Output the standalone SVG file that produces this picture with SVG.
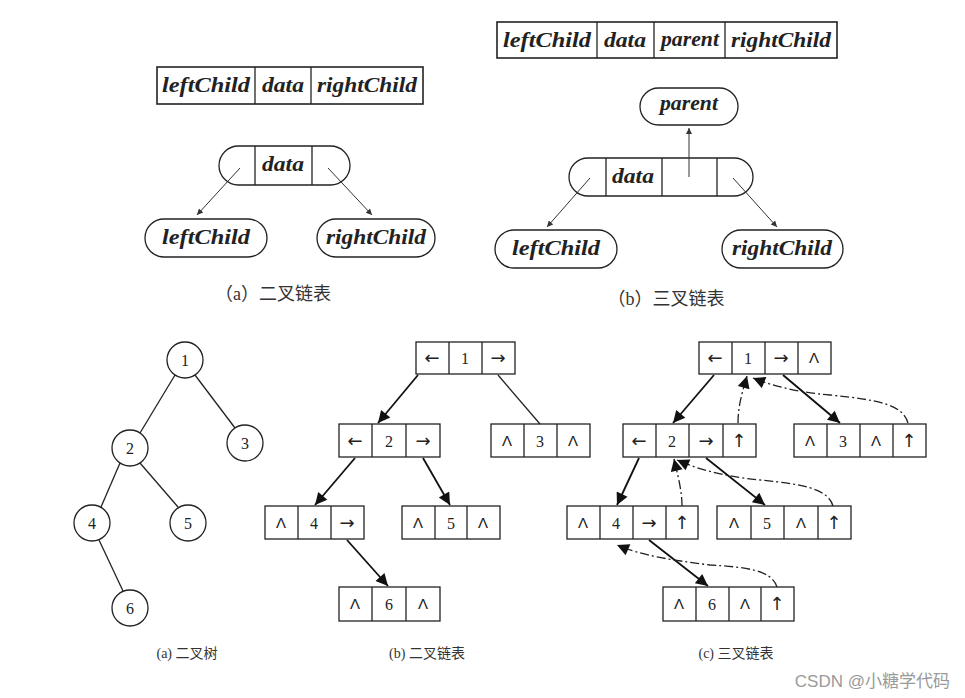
<svg xmlns="http://www.w3.org/2000/svg" width="965" height="698" viewBox="0 0 965 698">
<style>
.bx{fill:#fff;stroke:#222;stroke-width:1.3}
.bx2{fill:#fff;stroke:#222;stroke-width:1.6}
.ln{stroke:#222;stroke-width:1.3;fill:none}
.it{font-family:"Liberation Serif",serif;font-style:italic;font-weight:bold;font-size:20px;fill:#222;text-anchor:middle}
.cap{font-family:"Liberation Serif","Noto Sans CJK SC",sans-serif;font-size:18px;fill:#333;text-anchor:middle}
.cap2{font-family:"Liberation Serif","Noto Sans CJK SC",sans-serif;font-size:14px;fill:#333;text-anchor:middle}
.num{font-family:"Liberation Serif",serif;font-size:16px;fill:#222;text-anchor:middle}
.sym{font-family:"DejaVu Sans",sans-serif;font-size:18px;fill:#222;text-anchor:middle}
.lam{font-family:"Liberation Sans",sans-serif;font-size:15px;fill:#222;text-anchor:middle}
.thin{stroke:#333;stroke-width:1;fill:none}
.solid{stroke:#111;stroke-width:1.8;fill:none}
.dd{stroke:#222;stroke-width:1.3;fill:none;stroke-dasharray:9 3 2 3}
</style>
<defs>
<marker id="sm" viewBox="0 0 10 10" refX="10" refY="5" markerWidth="8" markerHeight="6" markerUnits="userSpaceOnUse" orient="auto"><path d="M0,0 L10,5 L0,10 z" fill="#333"/></marker>
<marker id="big" viewBox="0 0 10 10" refX="10" refY="5" markerWidth="15" markerHeight="12" markerUnits="userSpaceOnUse" orient="auto"><path d="M0,0 L10,5 L0,10 z" fill="#111"/></marker>
</defs>
<rect width="965" height="698" fill="#fff"/>

<!-- (a) binary linked list structure -->
<g id="a-record">
<rect class="bx2" x="157" y="67" width="266" height="37"/>
<line class="ln" x1="255" y1="67" x2="255" y2="104"/>
<line class="ln" x1="311" y1="67" x2="311" y2="104"/>
<text class="it" x="206" y="92" textLength="88" lengthAdjust="spacingAndGlyphs">leftChild</text>
<text class="it" x="283" y="92" textLength="42" lengthAdjust="spacingAndGlyphs">data</text>
<text class="it" x="367" y="92" textLength="100" lengthAdjust="spacingAndGlyphs">rightChild</text>
</g>
<g id="a-node">
<rect class="bx" x="219" y="146" width="131" height="39" rx="19.5"/>
<line class="ln" x1="255" y1="146" x2="255" y2="185"/>
<line class="ln" x1="312" y1="146" x2="312" y2="185"/>
<text class="it" x="283" y="171" textLength="42" lengthAdjust="spacingAndGlyphs">data</text>
</g>
<g id="a-left">
<rect class="bx" x="145" y="219" width="122" height="38" rx="19"/>
<text class="it" x="206" y="244" textLength="88" lengthAdjust="spacingAndGlyphs">leftChild</text>
</g>
<g id="a-right">
<rect class="bx" x="317" y="219" width="118" height="38" rx="19"/>
<text class="it" x="376" y="244" textLength="100" lengthAdjust="spacingAndGlyphs">rightChild</text>
</g>
<text class="cap" x="273" y="300">（a）二叉链表</text>

<!-- (b) triple linked list structure -->
<g id="b-record">
<rect class="bx2" x="497" y="22" width="340" height="36"/>
<line class="ln" x1="597" y1="22" x2="597" y2="58"/>
<line class="ln" x1="654" y1="22" x2="654" y2="58"/>
<line class="ln" x1="725" y1="22" x2="725" y2="58"/>
<text class="it" x="547" y="47" textLength="88" lengthAdjust="spacingAndGlyphs">leftChild</text>
<text class="it" x="625" y="47" textLength="42" lengthAdjust="spacingAndGlyphs">data</text>
<text class="it" x="690" y="46" textLength="58" lengthAdjust="spacingAndGlyphs">parent</text>
<text class="it" x="781" y="47" textLength="100" lengthAdjust="spacingAndGlyphs">rightChild</text>
</g>
<g id="b-parent">
<rect class="bx" x="640" y="88" width="98" height="37" rx="18.5"/>
<text class="it" x="689" y="110" textLength="58" lengthAdjust="spacingAndGlyphs">parent</text>
</g>
<g id="b-node">
<rect class="bx" x="569" y="158" width="184" height="38" rx="19"/>
<line class="ln" x1="606" y1="158" x2="606" y2="196"/>
<line class="ln" x1="662" y1="158" x2="662" y2="196"/>
<line class="ln" x1="717" y1="158" x2="717" y2="196"/>
<text class="it" x="633" y="183" textLength="42" lengthAdjust="spacingAndGlyphs">data</text>
</g>
<g id="b-left">
<rect class="bx" x="495" y="230" width="122" height="38" rx="19"/>
<text class="it" x="556" y="255" textLength="88" lengthAdjust="spacingAndGlyphs">leftChild</text>
</g>
<g id="b-right">
<rect class="bx" x="722" y="230" width="121" height="38" rx="19"/>
<text class="it" x="782" y="255" textLength="100" lengthAdjust="spacingAndGlyphs">rightChild</text>
</g>
<text class="cap" x="666" y="305">（b）三叉链表</text>

<!-- tree nodes -->
<g id="t1"><circle class="bx" cx="185" cy="360" r="18"/><text class="num" x="185" y="366">1</text></g>
<g id="t2"><circle class="bx" cx="130" cy="448" r="18"/><text class="num" x="130" y="454">2</text></g>
<g id="t3"><circle class="bx" cx="245" cy="443" r="18"/><text class="num" x="245" y="449">3</text></g>
<g id="t4"><circle class="bx" cx="92" cy="523" r="18"/><text class="num" x="92" y="529">4</text></g>
<g id="t5"><circle class="bx" cx="188" cy="523" r="18"/><text class="num" x="188" y="529">5</text></g>
<g id="t6"><circle class="bx" cx="130" cy="608" r="18"/><text class="num" x="130" y="614">6</text></g>
<text class="cap2" x="187" y="658">(a) 二叉树</text>

<!-- (b) binary linked list -->
<g id="b1"><rect class="bx" x="416" y="342" width="99" height="32"/><line class="ln" x1="449" y1="342" x2="449" y2="374"/><line class="ln" x1="482" y1="342" x2="482" y2="374"/>
<text class="sym" x="432" y="364">←</text><text class="num" x="465" y="364">1</text><text class="sym" x="498" y="364">→</text></g>
<g id="b2"><rect class="bx" x="339" y="424" width="101" height="33"/><line class="ln" x1="372" y1="424" x2="372" y2="457"/><line class="ln" x1="406" y1="424" x2="406" y2="457"/>
<text class="sym" x="355" y="447">←</text><text class="num" x="389" y="447">2</text><text class="sym" x="423" y="447">→</text></g>
<g id="b3"><rect class="bx" x="491" y="424" width="99" height="33"/><line class="ln" x1="524" y1="424" x2="524" y2="457"/><line class="ln" x1="557" y1="424" x2="557" y2="457"/>
<text class="lam" x="507" y="446">Λ</text><text class="num" x="540" y="447">3</text><text class="lam" x="573" y="446">Λ</text></g>
<g id="b4"><rect class="bx" x="265" y="506" width="99" height="33"/><line class="ln" x1="298" y1="506" x2="298" y2="539"/><line class="ln" x1="331" y1="506" x2="331" y2="539"/>
<text class="lam" x="281" y="528">Λ</text><text class="num" x="314" y="529">4</text><text class="sym" x="347" y="529">→</text></g>
<g id="b5"><rect class="bx" x="402" y="506" width="98" height="33"/><line class="ln" x1="435" y1="506" x2="435" y2="539"/><line class="ln" x1="467" y1="506" x2="467" y2="539"/>
<text class="lam" x="418" y="528">Λ</text><text class="num" x="451" y="529">5</text><text class="lam" x="483" y="528">Λ</text></g>
<g id="b6"><rect class="bx" x="339" y="587" width="101" height="34"/><line class="ln" x1="372" y1="587" x2="372" y2="621"/><line class="ln" x1="406" y1="587" x2="406" y2="621"/>
<text class="lam" x="355" y="609">Λ</text><text class="num" x="389" y="610">6</text><text class="lam" x="423" y="609">Λ</text></g>
<text class="cap2" x="427" y="658">(b) 二叉链表</text>

<!-- (c) triple linked list -->
<g id="c1"><rect class="bx" x="699" y="342" width="132" height="32"/><line class="ln" x1="732" y1="342" x2="732" y2="374"/><line class="ln" x1="765" y1="342" x2="765" y2="374"/><line class="ln" x1="798" y1="342" x2="798" y2="374"/>
<text class="sym" x="715" y="364">←</text><text class="num" x="748" y="364">1</text><text class="sym" x="781" y="364">→</text><text class="lam" x="814" y="363">Λ</text></g>
<g id="c2"><rect class="bx" x="623" y="424" width="133" height="33"/><line class="ln" x1="656" y1="424" x2="656" y2="457"/><line class="ln" x1="689" y1="424" x2="689" y2="457"/><line class="ln" x1="723" y1="424" x2="723" y2="457"/>
<text class="sym" x="639" y="447">←</text><text class="num" x="672" y="447">2</text><text class="sym" x="706" y="447">→</text><text class="sym" x="739" y="447">↑</text></g>
<g id="c3"><rect class="bx" x="794" y="424" width="132" height="33"/><line class="ln" x1="827" y1="424" x2="827" y2="457"/><line class="ln" x1="860" y1="424" x2="860" y2="457"/><line class="ln" x1="893" y1="424" x2="893" y2="457"/>
<text class="lam" x="810" y="446">Λ</text><text class="num" x="843" y="447">3</text><text class="lam" x="876" y="446">Λ</text><text class="sym" x="909" y="447">↑</text></g>
<g id="c4"><rect class="bx" x="567" y="506" width="131" height="33"/><line class="ln" x1="600" y1="506" x2="600" y2="539"/><line class="ln" x1="633" y1="506" x2="633" y2="539"/><line class="ln" x1="666" y1="506" x2="666" y2="539"/>
<text class="lam" x="583" y="528">Λ</text><text class="num" x="616" y="529">4</text><text class="sym" x="649" y="529">→</text><text class="sym" x="682" y="529">↑</text></g>
<g id="c5"><rect class="bx" x="717" y="506" width="134" height="33"/><line class="ln" x1="751" y1="506" x2="751" y2="539"/><line class="ln" x1="784" y1="506" x2="784" y2="539"/><line class="ln" x1="818" y1="506" x2="818" y2="539"/>
<text class="lam" x="734" y="528">Λ</text><text class="num" x="767" y="529">5</text><text class="lam" x="801" y="528">Λ</text><text class="sym" x="834" y="529">↑</text></g>
<g id="c6"><rect class="bx" x="663" y="587" width="131" height="34"/><line class="ln" x1="696" y1="587" x2="696" y2="621"/><line class="ln" x1="729" y1="587" x2="729" y2="621"/><line class="ln" x1="761" y1="587" x2="761" y2="621"/>
<text class="lam" x="679" y="609">Λ</text><text class="num" x="712" y="610">6</text><text class="lam" x="745" y="609">Λ</text><text class="sym" x="777" y="610">↑</text></g>
<text class="cap2" x="736" y="658">(c) 三叉链表</text>

<g id="connectors">
<!-- top (a) -->
<line class="thin" x1="240" y1="168" x2="197" y2="215" marker-end="url(#sm)"/>
<line class="thin" x1="328" y1="168" x2="372" y2="215" marker-end="url(#sm)"/>
<!-- top (b) -->
<line class="thin" x1="590" y1="178" x2="547" y2="227" marker-end="url(#sm)"/>
<line class="thin" x1="733" y1="178" x2="777" y2="227" marker-end="url(#sm)"/>
<line class="thin" x1="689" y1="177" x2="689" y2="128" marker-end="url(#sm)"/>
<!-- tree edges -->
<line class="ln" x1="175" y1="375" x2="140" y2="433"/>
<line class="ln" x1="195" y1="375" x2="235" y2="428"/>
<line class="ln" x1="120" y1="463" x2="101" y2="507"/>
<line class="ln" x1="140" y1="463" x2="178" y2="507"/>
<line class="ln" x1="99" y1="540" x2="123" y2="591"/>
<!-- (b) list -->
<line class="solid" x1="418" y1="375" x2="378" y2="423" marker-end="url(#big)"/>
<line class="ln" x1="498" y1="375" x2="540" y2="424"/>
<line class="solid" x1="355" y1="458" x2="315" y2="505" marker-end="url(#big)"/>
<line class="solid" x1="423" y1="458" x2="450" y2="505" marker-end="url(#big)"/>
<line class="solid" x1="347" y1="540" x2="388" y2="586" marker-end="url(#big)"/>
<!-- (c) list -->
<line class="solid" x1="714" y1="375" x2="673" y2="423" marker-end="url(#big)"/>
<line class="solid" x1="783" y1="375" x2="840" y2="423" marker-end="url(#big)"/>
<line class="solid" x1="639" y1="458" x2="617" y2="505" marker-end="url(#big)"/>
<line class="solid" x1="706" y1="458" x2="765" y2="505" marker-end="url(#big)"/>
<line class="solid" x1="649" y1="540" x2="708" y2="586" marker-end="url(#big)"/>
<path class="dd" d="M738,423 C738,405 743,390 747,376" marker-end="url(#big)"/>
<path class="dd" d="M908,423 C903,405 880,400 830,395 C795,392 770,385 753,378" marker-end="url(#big)"/>
<path class="dd" d="M682,506 C682,490 677,472 674,459" marker-end="url(#big)"/>
<path class="dd" d="M833,506 C828,488 800,484 760,480 C720,476 695,468 677,460" marker-end="url(#big)"/>
<path class="dd" d="M777,587 C772,570 745,567 710,565 C670,560 640,555 617,545" marker-end="url(#big)"/>
</g>

<text x="950" y="687" font-family="'Liberation Sans','Noto Sans CJK SC',sans-serif" font-size="17" fill="#9a9a9a" text-anchor="end">CSDN @小糖学代码</text>
</svg>
